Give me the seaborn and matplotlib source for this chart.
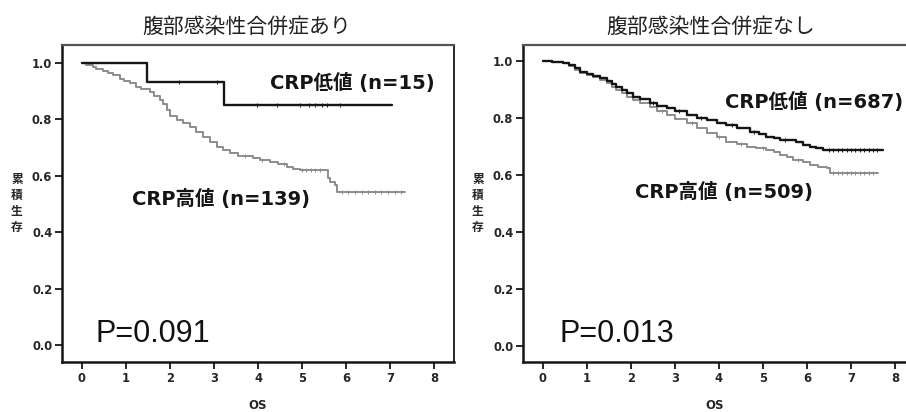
import numpy as np
import pandas as pd
import matplotlib
matplotlib.use("Agg")
import matplotlib.pyplot as plt
import seaborn as sns

# ---------------- data ----------------
titles = ["腹部感染性合併症あり", "腹部感染性合併症なし"]
ylabel_text = "累積生存"
xlabel_text = "OS"
p_texts = ["P=0.091", "P=0.013"]
low_labels = ["CRP低値 (n=15)", "CRP低値 (n=687)"]
high_labels = ["CRP高値 (n=139)", "CRP高値 (n=509)"]
xticks = [0, 1, 2, 3, 4, 5, 6, 7, 8]
yticks = [0.0, 0.2, 0.4, 0.6, 0.8, 1.0]

# left panel (with abdominal infection)
L_low_t = [0, 1.48, 3.23, 7.05]
L_low_s = [1.0, 0.933, 0.851, 0.851]
L_low_cens = [2.2, 3.06, 3.97, 4.43, 4.95, 5.15, 5.3, 5.45, 5.56, 5.87]

L_high_t = [0, 0.10, 0.25, 0.33, 0.48, 0.60, 0.71, 0.86, 0.95, 1.10, 1.24, 1.35,
            1.55, 1.65, 1.77, 1.85, 1.93, 2.00, 2.15, 2.30, 2.45, 2.60, 2.75, 2.90,
            3.06, 3.20, 3.36, 3.55, 3.89, 4.05, 4.27, 4.45, 4.65, 4.80, 4.95, 5.58,
            5.63, 5.75, 5.79, 7.34]
L_high_s = [1.0, 0.993, 0.986, 0.979, 0.971, 0.964, 0.957, 0.942, 0.935, 0.928, 0.916, 0.908,
            0.898, 0.883, 0.869, 0.855, 0.833, 0.812, 0.798, 0.786, 0.774, 0.757, 0.739, 0.721,
            0.703, 0.692, 0.680, 0.671, 0.662, 0.656, 0.650, 0.641, 0.632, 0.626, 0.620, 0.591,
            0.580, 0.568, 0.544, 0.544]
L_high_cens = [3.7, 4.1, 4.6, 5.0, 5.1, 5.2, 5.3, 5.4, 5.9, 6.05, 6.2, 6.35, 6.5, 6.65,
               6.8, 6.95, 7.1, 7.25]

# right panel (without abdominal infection)
R_low_t = [0, 0.20, 0.46, 0.60, 0.72, 0.84, 1.00, 1.15, 1.30, 1.45, 1.57, 1.67, 1.80,
           1.92, 2.05, 2.20, 2.43, 2.60, 2.81, 3.00, 3.27, 3.50, 3.72, 3.95, 4.17, 4.40,
           4.70, 4.90, 5.08, 5.25, 5.39, 5.75, 5.90, 6.07, 6.20, 6.37, 7.73]
R_low_s = [1.0, 0.997, 0.993, 0.985, 0.975, 0.962, 0.955, 0.947, 0.939, 0.930, 0.920, 0.910,
           0.898, 0.887, 0.875, 0.865, 0.851, 0.843, 0.834, 0.824, 0.810, 0.801, 0.793, 0.784,
           0.775, 0.765, 0.752, 0.745, 0.735, 0.730, 0.723, 0.715, 0.706, 0.699, 0.693, 0.688,
           0.688]
R_low_cens = [2.5, 3.1, 3.6, 4.3, 4.8, 5.5, 6.5, 6.6, 6.7, 6.8, 6.9, 7.0, 7.1, 7.2, 7.3,
              7.4, 7.5, 7.6]

R_high_t = [0, 0.20, 0.46, 0.60, 0.72, 0.84, 1.00, 1.15, 1.30, 1.45, 1.57, 1.67, 1.80,
            1.92, 2.05, 2.20, 2.43, 2.60, 2.81, 3.00, 3.27, 3.50, 3.72, 3.95, 4.17, 4.40,
            4.63, 4.85, 5.08, 5.25, 5.39, 5.55, 5.69, 5.90, 6.07, 6.25, 6.45, 6.52, 7.62]
R_high_s = [1.0, 0.997, 0.993, 0.983, 0.970, 0.958, 0.950, 0.942, 0.933, 0.922, 0.910, 0.898,
            0.886, 0.875, 0.863, 0.853, 0.840, 0.826, 0.810, 0.798, 0.781, 0.765, 0.746, 0.732,
            0.717, 0.708, 0.699, 0.693, 0.688, 0.679, 0.670, 0.662, 0.653, 0.644, 0.635, 0.629,
            0.623, 0.606, 0.606]
R_high_cens = [2.7, 3.4, 4.0, 4.5, 5.0, 5.8, 6.6, 6.7, 6.8, 6.9, 7.0, 7.1, 7.2, 7.3, 7.4,
               7.5]

# ---------------- style ----------------
sns.set_style("ticks")
plt.rcParams["font.family"] = ["Noto Sans CJK JP", "DejaVu Sans"]
MIXED = ["DejaVu Sans", "Noto Sans CJK JP"]

BLACK = "#151515"
GRAY = "#8c8c8c"

fig = plt.figure(figsize=(9.06, 4.12), dpi=100)
ax_l = fig.add_axes([62 / 906, 50 / 412, (454 - 62) / 906, (362 - 45) / 412])
ax_r = fig.add_axes([523 / 906, 50 / 412, (906 - 523) / 906, (362 - 45) / 412])


def surv_at(t, s, c):
    t = np.asarray(t)
    s = np.asarray(s)
    idx = np.searchsorted(t, c, side="right") - 1
    return s[idx]


def draw_curve(ax, t, s, cens, color, lw):
    df = pd.DataFrame({"t": t, "s": s})
    sns.lineplot(data=df, x="t", y="s", ax=ax, color=color, lw=lw,
                 drawstyle="steps-post", estimator=None, sort=False)
    cdf = pd.DataFrame({"t": cens, "s": surv_at(t, s, cens)})
    sns.scatterplot(data=cdf, x="t", y="s", ax=ax, marker="|", s=7,
                    color=color, linewidth=0.7)


panels = [
    (ax_l, (L_low_t, L_low_s, L_low_cens), (L_high_t, L_high_s, L_high_cens),
     (-0.45, 8.45), (-0.06, 1.064),
     (4.27, 0.929), (1.14, 0.518), (0.30, 0.04)),
    (ax_r, (R_low_t, R_low_s, R_low_cens), (R_high_t, R_high_s, R_high_cens),
     (-0.45, 8.25), (-0.056, 1.056),
     (4.14, 0.856), (2.09, 0.54), (0.39, 0.042)),
]

for i, (ax, low, high, xl, yl, lowpos, highpos, ppos) in enumerate(panels):
    draw_curve(ax, *high, GRAY, 1.4)
    draw_curve(ax, *low, BLACK, 1.7)
    ax.set_xlim(*xl)
    ax.set_ylim(*yl)
    ax.set_xticks(xticks)
    ax.set_yticks(yticks)
    ax.set_xticklabels([str(v) for v in xticks])
    ax.set_yticklabels([f"{v:.1f}" for v in yticks])
    ax.tick_params(axis="both", direction="out", length=5, width=1.3,
                   color=BLACK, labelsize=8.3, pad=2)
    for lab in ax.get_xticklabels() + ax.get_yticklabels():
        lab.set_fontweight("bold")
        lab.set_family(["DejaVu Sans"])
    for side in ["left", "bottom"]:
        ax.spines[side].set_linewidth(1.8)
        ax.spines[side].set_color(BLACK)
    ax.spines["top"].set_linewidth(1.6)
    ax.spines["top"].set_color("#555555")
    ax.spines["right"].set_linewidth(1.3)
    ax.spines["right"].set_color(BLACK)
    if i == 1:
        ax.spines["right"].set_visible(False)
    ax.set_xlabel(xlabel_text, fontsize=8.5, fontweight="bold",
                  family=["DejaVu Sans"], labelpad=10)
    ax.set_ylabel("\n".join(ylabel_text), rotation=0, fontsize=8.5,
                  fontweight="bold", linespacing=1.3, va="center", ha="center")
    ax.yaxis.set_label_coords(-45 / (454 - 62) if i == 0 else -45 / (906 - 523), 0.5)
    ax.set_title(titles[i], fontsize=15, color="#222222", pad=9,
                 x=0.47 if i == 0 else 0.49)
    ax.text(*lowpos, low_labels[i], fontsize=14, fontweight="bold",
            family=MIXED, color=BLACK, ha="left", va="center")
    ax.text(*highpos, high_labels[i], fontsize=14, fontweight="bold",
            family=MIXED, color=BLACK, ha="left", va="center")
    ax.text(*ppos, p_texts[i], fontsize=22, family=["Liberation Sans"],
            color="#111111", ha="left", va="center")

fig.savefig("out.png", dpi=100)
